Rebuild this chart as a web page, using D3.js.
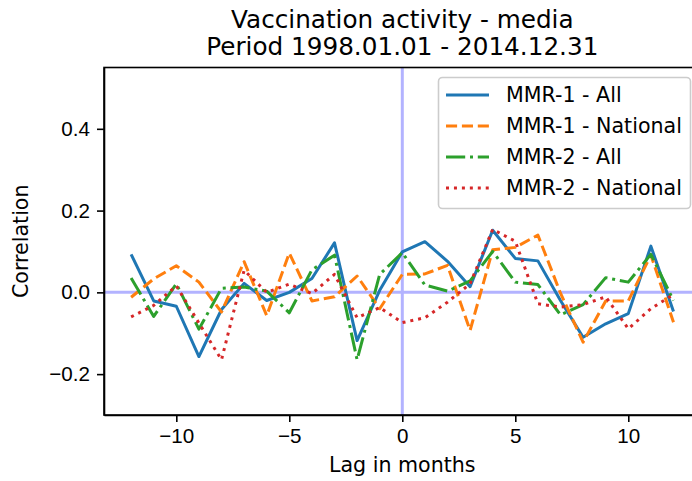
<!DOCTYPE html>
<html lang="en">

<head>
    <meta charset="utf-8">
    <title>Vaccination activity - media</title>
    <script src="https://d3js.org/d3.v7.min.js"></script>
    <style>
      body { margin: 0; background: #fff; }
      svg { font-family: "DejaVu Sans", sans-serif; display: block; }
      .axis path, .axis line { stroke: #000; stroke-width: 1.6; }
      .axis text { font-size: 20.6px; fill: #000; }
      .series { fill: none; stroke-width: 3; }
    </style>
</head>

<body>
    <script type="text/javascript">
    var lags = d3.range(-12, 13);
    var mmr1All = [0.093, -0.021, -0.034, -0.157, -0.042, 0.022, -0.02, 0.0, 0.034, 0.121, -0.118, 0.005, 0.099,
                   0.124, 0.076, 0.014, 0.152, 0.083, 0.077, -0.02, -0.11, -0.077, -0.052, 0.113, -0.047];
    var mmr1National = [-0.012, 0.033, 0.065, 0.025, -0.048, 0.075, -0.057, 0.096, -0.021, -0.011, 0.04, -0.04, 0.044,
                        0.045, 0.066, -0.093, 0.104, 0.11, 0.14, -0.002, -0.122, -0.021, -0.021, 0.091, -0.073];
    var mmr2All = [0.035, -0.059, 0.021, -0.09, 0.01, 0.013, 0.003, -0.05, 0.055, 0.091, -0.165, 0.044, 0.097,
                   0.018, 0.003, 0.028, 0.1, 0.025, 0.019, -0.055, -0.03, 0.036, 0.025, 0.093, -0.02];
    var mmr2National = [-0.06, -0.032, 0.016, -0.075, -0.165, 0.054, 0.0, 0.02, -0.003, 0.044, -0.062, -0.037, -0.074,
                        -0.062, -0.024, 0.021, 0.154, 0.125, -0.028, -0.036, -0.03, -0.011, -0.089, -0.04, -0.005];
    var seriesNames = ['MMR-1 - All', 'MMR-1 - National', 'MMR-2 - All', 'MMR-2 - National'];
    var xTicks = [-10, -5, 0, 5, 10];
    var yTicks = [-0.2, 0.0, 0.2, 0.4];
    var titleLines = ['Vaccination activity - media', 'Period 1998.01.01 - 2014.12.31'];

    var colors = ['#1f77b4', '#ff7f0e', '#2ca02c', '#d62728'];
    var dashes = ['none', '11.1,4.8', '19.2,4.8,3,4.8', '3,4.95'];
    var allValues = [mmr1All, mmr1National, mmr2All, mmr2National];
    var series = seriesNames.map(function(name, i) {
      return {name: name, color: colors[i], dash: dashes[i],
              values: lags.map(function(l, j) { return {lag: l, v: allValues[i][j]}; })};
    });

    var W = 692, H = 481;
    var plot = {left: 104, right: 700.6, top: 67.5, bottom: 415};

    var x = d3.scaleLinear().domain([-13.2, 13.2]).range([plot.left, plot.right]);
    var y = d3.scaleLinear().domain([-0.3, 0.55]).range([plot.bottom, plot.top]);

    var svg = d3.select('body').append('svg')
        .attr('width', W)
        .attr('height', H);

    svg.append('clipPath').attr('id', 'clip')
      .append('rect')
        .attr('x', plot.left).attr('y', plot.top)
        .attr('width', plot.right - plot.left).attr('height', plot.bottom - plot.top);

    var inner = svg.append('g').attr('clip-path', 'url(#clip)');

    // reference lines at zero
    inner.append('line')
        .attr('x1', plot.left).attr('x2', plot.right)
        .attr('y1', y(0)).attr('y2', y(0))
        .attr('stroke', '#b3b3ff').attr('stroke-width', 3);
    inner.append('line')
        .attr('x1', x(0)).attr('x2', x(0))
        .attr('y1', plot.top).attr('y2', plot.bottom)
        .attr('stroke', '#b3b3ff').attr('stroke-width', 3);

    var line = d3.line()
        .x(function(d) { return x(d.lag); })
        .y(function(d) { return y(d.v); });

    inner.selectAll('.series')
        .data(series)
      .enter().append('path')
        .attr('class', 'series')
        .attr('d', function(d) { return line(d.values); })
        .attr('stroke', function(d) { return d.color; })
        .attr('stroke-dasharray', function(d) { return d.dash; })
        .attr('stroke-linejoin', 'round');

    // axes
    var xAxis = d3.axisBottom(x).tickValues(xTicks).tickSize(7).tickPadding(6)
        .tickSizeOuter(0)
        .tickFormat(function(d) { return d < 0 ? '\u2212' + Math.abs(d) : d; });
    var yAxis = d3.axisLeft(y).tickValues(yTicks).tickSize(7).tickPadding(7)
        .tickSizeOuter(0)
        .tickFormat(function(d) { return d < 0 ? '\u2212' + Math.abs(d).toFixed(1) : d.toFixed(1); });

    svg.append('g')
        .attr('class', 'x axis')
        .attr('transform', 'translate(0,' + plot.bottom + ')')
        .call(xAxis);
    svg.append('g')
        .attr('class', 'y axis')
        .attr('transform', 'translate(' + plot.left + ',0)')
        .call(yAxis);

    // spines
    svg.append('rect')
        .attr('x', plot.left).attr('y', plot.top)
        .attr('width', plot.right - plot.left).attr('height', plot.bottom - plot.top)
        .attr('fill', 'none').attr('stroke', '#000').attr('stroke-width', 1.6);

    // title and labels
    svg.selectAll('.title')
        .data(titleLines)
      .enter().append('text')
        .attr('class', 'title')
        .attr('x', (plot.left + plot.right) / 2)
        .attr('y', function(d, i) { return 28 + i * 27; })
        .attr('text-anchor', 'middle')
        .style('font-size', '24.7px')
        .text(function(d) { return d; });

    svg.append('text')
        .attr('x', (plot.left + plot.right) / 2)
        .attr('y', 472)
        .attr('text-anchor', 'middle')
        .style('font-size', '20.6px')
        .text('Lag in months');

    svg.append('text')
        .attr('transform', 'translate(28,' + (plot.top + plot.bottom) / 2 + ') rotate(-90)')
        .attr('text-anchor', 'middle')
        .style('font-size', '20.6px')
        .text('Correlation');

    // legend
    var legend = svg.append('g').attr('class', 'legend');
    legend.append('rect')
        .attr('x', 438.5).attr('y', 77.5)
        .attr('width', 252).attr('height', 131)
        .attr('rx', 4)
        .attr('fill', 'rgba(255,255,255,0.8)')
        .attr('stroke', '#cccccc').attr('stroke-width', 1.6);

    var item = legend.selectAll('.item')
        .data(series)
      .enter().append('g')
        .attr('class', 'item')
        .attr('transform', function(d, i) { return 'translate(0,' + (95 + i * 31) + ')'; });
    item.append('line')
        .attr('x1', 446).attr('x2', 489)
        .attr('stroke', function(d) { return d.color; })
        .attr('stroke-width', 3)
        .attr('stroke-dasharray', function(d) { return d.dash; });
    item.append('text')
        .attr('x', 506)
        .attr('y', 7.2)
        .style('font-size', '20.6px')
        .text(function(d) { return d.name; });
    </script>
</body>

</html>
